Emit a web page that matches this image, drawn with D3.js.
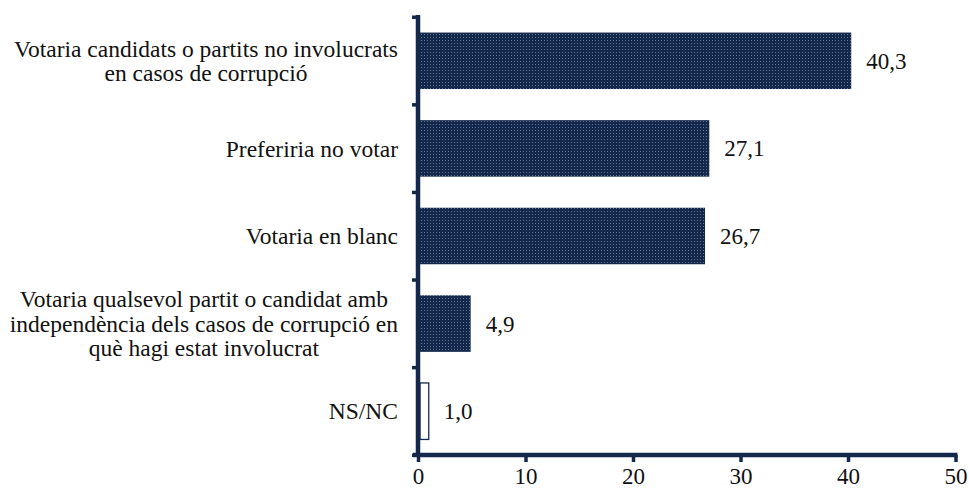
<!DOCTYPE html>
<html>
<head>
<meta charset="utf-8">
<script src="https://cdn.jsdelivr.net/npm/d3@7"></script>
<style>
  body { margin: 0; background: #fff; }
  svg text { font-family: "Liberation Serif", Tinos, "Times New Roman", "DejaVu Serif", serif; fill: #111; }
</style>
</head>
<body>
<div id="chart"></div>
<script>
// DATA
var categories = [
  "Votaria candidats o partits no involucrats\nen casos de corrupció",
  "Preferiria no votar",
  "Votaria en blanc",
  "Votaria qualsevol partit o candidat amb\nindependència dels casos de corrupció en\nquè hagi estat involucrat",
  "NS/NC"
];
var values = [40.3, 27.1, 26.7, 4.9, 1.0];
var xTicks = [0, 10, 20, 30, 40, 50];

var navy = "#13284a";

var svgWidth = 969, svgHeight = 490;
var x0 = 418, x1 = 955.5;
var yTop = 17, yBottom = 455;

var svg = d3.select("#chart").append("svg")
  .attr("width", svgWidth)
  .attr("height", svgHeight);

// dotted fill like the original
var pat = svg.append("defs").append("pattern")
  .attr("id", "dots")
  .attr("width", 3).attr("height", 3)
  .attr("patternUnits", "userSpaceOnUse");
pat.append("rect").attr("width", 3).attr("height", 3).attr("fill", navy);
pat.append("rect").attr("x", 1).attr("y", 1).attr("width", 1).attr("height", 1)
  .attr("fill", "#5d7597");

////////////
// SCALES //
////////////

var x = d3.scaleLinear().domain([0, 50]).range([x0, x1]);

var y = d3.scaleBand()
  .domain(d3.range(categories.length))
  .range([yTop, yBottom])
  .paddingInner(0.355)
  .paddingOuter(0.355 / 2);

var data = categories.map(function (c, i) { return { name: c, value: values[i], i: i }; });

//////////
// BARS //
//////////

svg.selectAll(".bar")
  .data(data)
  .enter().append("rect")
  .attr("class", "bar")
  .attr("x", x(0) + 2)
  .attr("y", function (d) { return y(d.i); })
  .attr("height", y.bandwidth())
  .attr("width", function (d) { return x(d.value) - x(0) - 2; })
  .attr("fill", function (d) { return d.name == "NS/NC" ? "#fff" : "url(#dots)"; })
  .attr("stroke", function (d) { return d.name == "NS/NC" ? navy : "none"; })
  .attr("stroke-width", 1.3);

// value labels
svg.selectAll(".val")
  .data(data)
  .enter().append("text")
  .attr("class", "val")
  .attr("x", function (d) { return x(d.value) + 15; })
  .attr("y", function (d) { return y(d.i) + y.bandwidth() / 2; })
  .attr("dy", "0.35em")
  .style("font-size", "23px")
  .text(function (d) { return d3.format(".1f")(d.value).replace(".", ","); });

//////////
// AXES //
//////////

var step = y.step();
// y axis line + ticks at category boundaries
svg.append("line")
  .attr("x1", x0).attr("x2", x0)
  .attr("y1", yTop - 2).attr("y2", yBottom + 2)
  .attr("stroke", navy).attr("stroke-width", 4.5);

svg.selectAll(".ytick")
  .data(d3.range(categories.length + 1))
  .enter().append("rect")
  .attr("class", "ytick")
  .attr("x", x0 - 6)
  .attr("y", function (d) { return yTop + d * step - 1.5; })
  .attr("width", 5).attr("height", 3.5)
  .attr("fill", navy);

var xAxis = d3.axisBottom(x).tickValues(xTicks).tickSize(7).tickSizeOuter(0);

var gx = svg.append("g")
  .attr("class", "x axis")
  .attr("transform", "translate(0," + yBottom + ")")
  .call(xAxis);
gx.select(".domain").remove();
gx.selectAll(".tick line").attr("stroke", navy).attr("stroke-width", 3.5);
gx.selectAll(".tick text")
  .attr("y", 29)
  .attr("dy", 0)
  .attr("font-family", null)
  .attr("font-size", null)
  .style("font-size", "23px")
  .attr("fill", "#111");

svg.append("line")
  .attr("x1", x0 - 5).attr("x2", x1 + 2)
  .attr("y1", yBottom).attr("y2", yBottom)
  .attr("stroke", navy).attr("stroke-width", 4.5);

//////////////////////
// CATEGORY LABELS  //
//////////////////////

var lineH = 24.5;
data.forEach(function (d) {
  var lines = d.name.split("\n");
  var g = svg.append("text")
    .attr("class", "cat")
    .style("font-size", "23.5px")
    .attr("text-anchor", "middle");
  var cy = y(d.i) + y.bandwidth() / 2 - (lines.length - 1) * lineH / 2;
  lines.forEach(function (l, k) {
    g.append("tspan").attr("y", cy + k * lineH).attr("dy", "0.35em").text(l);
  });
  // right-align the centred block against the axis
  var w = 0;
  g.selectAll("tspan").each(function () { w = Math.max(w, this.getComputedTextLength()); });
  g.selectAll("tspan").attr("x", 398 - w / 2);
});
</script>
</body>
</html>
